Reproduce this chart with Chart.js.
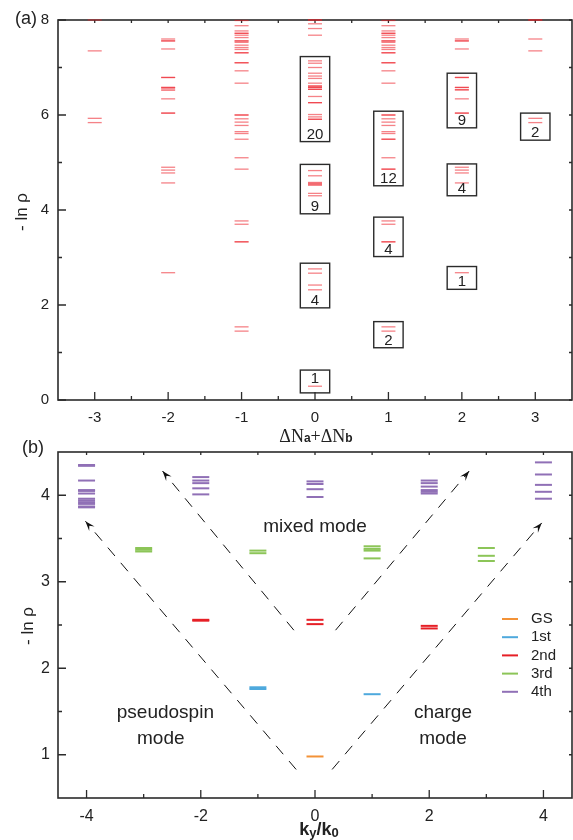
<!DOCTYPE html>
<html>
<head>
<meta charset="utf-8">
<script src="https://cdn.jsdelivr.net/npm/chart.js@4.4.0/dist/chart.umd.min.js"></script>
<style>
html, body { margin: 0; padding: 0; background: #fff; }
body { width: 573px; height: 840px; position: relative; overflow: hidden; }
canvas { position: absolute; left: 0; }
</style>
</head>
<body>
<canvas id="spec_a" width="573" height="445" style="top:0"></canvas>
<canvas id="spec_b" width="573" height="410" style="top:430px"></canvas>
<script>
// ---- panel (a): levels -ln rho per sector dNa+dNb ----
var sectors = [-3, -2, -1, 0, 1, 2, 3];
var levM3 = [8.0, 7.35, 5.93, 5.84];
var levM2 = [7.60, 7.56, 7.56, 7.39, 6.79, 6.79, 6.58, 6.58, 6.55, 6.52, 6.34, 6.04, 6.04,
             4.90, 4.84, 4.78, 4.57, 2.68];
var levM1 = [7.99, 7.88, 7.77, 7.72, 7.72, 7.68, 7.63, 7.56, 7.56, 7.53, 7.47, 7.42, 7.38, 7.31, 7.31,
             7.10, 7.10, 6.93, 6.67, 6.00, 6.00, 5.92, 5.85, 5.78, 5.65, 5.61, 5.49, 5.10, 4.86,
             3.77, 3.70, 3.33, 3.33, 1.54, 1.45];
var lev0  = [8.0, 8.0, 7.92, 7.82, 7.68,
             7.14, 7.09, 7.00, 6.88, 6.82, 6.77, 6.67, 6.61, 6.61, 6.58, 6.58, 6.54, 6.54, 6.39,
             6.26, 6.26, 6.01, 5.96, 5.91, 5.91,
             4.83, 4.72, 4.58, 4.56, 4.54, 4.52, 4.35, 4.30,
             2.76, 2.67, 2.42, 2.32, 0.29];
var levP1 = [7.99, 7.88, 7.77, 7.72, 7.72, 7.68, 7.63, 7.56, 7.56, 7.53, 7.47, 7.42, 7.38, 7.31, 7.31,
             7.10, 7.10, 6.93, 6.67, 6.00, 6.00, 5.92, 5.85, 5.78, 5.65, 5.61, 5.49, 5.49, 5.10, 4.86, 4.86,
             3.77, 3.70, 3.33, 3.33, 1.54, 1.45];
var levP2 = [7.60, 7.56, 7.56, 7.39, 6.79, 6.79, 6.58, 6.58, 6.53, 6.53, 6.34, 6.04, 6.04,
             4.90, 4.84, 4.78, 4.57, 2.68];
var levP3 = [8.0, 8.0, 7.60, 7.35, 5.93, 5.84];
var levelsBySector = [levM3, levM2, levM1, lev0, levP1, levP2, levP3];

// boxes: [sector, low, high, count, label baseline]
var boxes = [
  [0, 5.44, 7.23, '20', 5.50],
  [0, 3.92, 4.96, '9', 3.98],
  [0, 1.94, 2.88, '4', 2.00],
  [0, 0.15, 0.63, '1', 0.36],
  [1, 4.51, 6.08, '12', 4.57],
  [1, 3.02, 3.85, '4', 3.08],
  [1, 1.10, 1.65, '2', 1.16],
  [2, 5.73, 6.88, '9', 5.79],
  [2, 4.30, 4.97, '4', 4.36],
  [2, 2.33, 2.81, '1', 2.39],
  [3, 5.47, 6.04, '2', 5.53]
];
var xTicksA = [-3, -2, -1, 0, 1, 2, 3];
var yTicksA = [0, 2, 4, 6, 8];

// ---- panel (b): levels vs ky/k0 ----
var modeNames = ['GS', '1st', '2nd', '3rd', '4th'];
var gsLevels = [[0, 0.98]];
var firstLevels = [[-1, 1.78], [-1, 1.76], [1, 1.70]];
var secondLevels = [[-2, 2.56], [-2, 2.55], [0, 2.56], [0, 2.51], [2, 2.49], [2, 2.46]];
var thirdLevels = [[-3, 3.39], [-3, 3.37], [-3, 3.35], [-1, 3.36], [-1, 3.33],
                   [1, 3.41], [1, 3.38], [1, 3.36], [1, 3.27], [3, 3.39], [3, 3.30], [3, 3.24]];
var fourthLevels = [[-4, 4.35], [-4, 4.34], [-4, 4.17], [-4, 4.06], [-4, 4.05], [-4, 4.02],
                    [-4, 3.96], [-4, 3.94], [-4, 3.92], [-4, 3.90], [-4, 3.87], [-4, 3.86],
                    [-2, 4.21], [-2, 4.17], [-2, 4.14], [-2, 4.08], [-2, 4.01],
                    [0, 4.16], [0, 4.13], [0, 4.07], [0, 3.98],
                    [2, 4.17], [2, 4.14], [2, 4.10], [2, 4.06], [2, 4.04], [2, 4.02],
                    [4, 4.38], [4, 4.24], [4, 4.12], [4, 4.04], [4, 3.96]];
var modeLevels = [gsLevels, firstLevels, secondLevels, thirdLevels, fourthLevels];
var modeColors = ['#f39237', '#4ea9dd', '#e61f26', '#8cc558', '#9070b6'];

// dashed guide lines (start, arrow tip)
var guides = [
  [[-0.33, 0.83], [-4.02, 3.70]],
  [[0.30, 0.83], [3.97, 3.68]],
  [[-0.37, 2.44], [-2.67, 4.28]],
  [[0.36, 2.44], [2.70, 4.28]]
];
var xTicksB = [-4, -2, 0, 2, 4];
var yTicksB = [1, 2, 3, 4];

Chart.defaults.font.family = '"Liberation Sans", Arial, sans-serif';
Chart.defaults.color = '#222';

function midpoints(arr) {
  var out = [];
  for (var i = 0; i < arr.length - 1; i++) out.push((arr[i] + arr[i + 1]) / 2);
  return out;
}

function frame(xMajor, yMajor) {
  var xMinor = midpoints(xMajor), yMinor = midpoints(yMajor);
  return {
    id: 'frame',
    beforeDatasetsDraw: function(chart) {
      var ctx = chart.ctx, a = chart.chartArea, xs = chart.scales.x, ys = chart.scales.y;
      ctx.save();
      ctx.strokeStyle = '#2b2b2b';
      ctx.lineWidth = 1.6;
      ctx.strokeRect(a.left, a.top, a.right - a.left, a.bottom - a.top);
      ctx.lineWidth = 1.3;
      ctx.beginPath();
      function xt(list, len) {
        list.forEach(function(v) {
          var p = xs.getPixelForValue(v);
          ctx.moveTo(p, a.bottom); ctx.lineTo(p, a.bottom - len);
          ctx.moveTo(p, a.top); ctx.lineTo(p, a.top + 3);
        });
      }
      function yt(list, len) {
        list.forEach(function(v) {
          var p = ys.getPixelForValue(v);
          ctx.moveTo(a.left, p); ctx.lineTo(a.left + len, p);
          ctx.moveTo(a.right, p); ctx.lineTo(a.right - 3, p);
        });
      }
      xt(xMajor, 8); xt(xMinor, 4);
      yt(yMajor, 8); yt(yMinor, 4);
      ctx.stroke();
      ctx.restore();
    }
  };
}

function yTitle(ctx, x, y, size) {
  ctx.save();
  ctx.translate(x, y);
  ctx.rotate(-Math.PI / 2);
  ctx.font = size + 'px "Liberation Sans", Arial, sans-serif';
  ctx.fillStyle = '#222';
  ctx.textAlign = 'center';
  ctx.textBaseline = 'alphabetic';
  ctx.fillText('- ln ρ', 0, 0);
  ctx.restore();
}

function pieces(ctx, parts, cx, base) {
  var total = 0;
  parts.forEach(function(p) { ctx.font = p[1]; total += ctx.measureText(p[0]).width; });
  var x = cx - total / 2;
  ctx.textAlign = 'left';
  ctx.textBaseline = 'alphabetic';
  parts.forEach(function(p) {
    ctx.font = p[1];
    ctx.fillText(p[0], x, base + (p[2] || 0));
    x += ctx.measureText(p[0]).width;
  });
}

function noPadX(s, h) { s.height = h; s.paddingLeft = 0; s.paddingRight = 0; }
function noPadY(s, w) { s.width = w; s.paddingTop = 0; s.paddingBottom = 0; }

// ---------- chart (a) ----------
var pointsA = [];
sectors.forEach(function(s, i) {
  levelsBySector[i].forEach(function(v) { pointsA.push({x: s, y: v}); });
});

var annotateA = {
  id: 'annotateA',
  afterDatasetsDraw: function(chart) {
    var ctx = chart.ctx, xs = chart.scales.x, ys = chart.scales.y;
    ctx.save();
    ctx.strokeStyle = '#2b2b2b';
    ctx.lineWidth = 1.4;
    ctx.fillStyle = '#222';
    ctx.font = '15px "Liberation Sans", Arial, sans-serif';
    ctx.textAlign = 'center';
    ctx.textBaseline = 'alphabetic';
    boxes.forEach(function(b) {
      var l = xs.getPixelForValue(b[0] - 0.2), r = xs.getPixelForValue(b[0] + 0.2);
      var t = ys.getPixelForValue(b[2]), btm = ys.getPixelForValue(b[1]);
      ctx.strokeRect(l, t, r - l, btm - t);
      ctx.fillText(b[3], xs.getPixelForValue(b[0]), ys.getPixelForValue(b[4]));
    });
    ctx.font = '18px "Liberation Sans", Arial, sans-serif';
    ctx.textAlign = 'left';
    ctx.fillText('(a)', 15, 24);
    yTitle(ctx, 27, 212, 17);
    var serif = '18px "Liberation Serif", "DejaVu Serif", serif';
    var small = 'bold 12px "Liberation Sans", Arial, sans-serif';
    pieces(ctx, [['ΔN', serif], ['a', small], ['+ΔN', serif], ['b', small]], 316, 442);
    ctx.restore();
  }
};

new Chart(document.getElementById('spec_a').getContext('2d'), {
  type: 'scatter',
  data: {
    datasets: [{
      data: pointsA,
      pointStyle: 'line',
      pointRadius: 7,
      pointHoverRadius: 7,
      pointBorderWidth: 1.3,
      borderColor: 'rgba(236,28,36,0.55)',
      backgroundColor: 'rgba(236,28,36,0.55)',
      clip: false
    }]
  },
  options: {
    responsive: false,
    animation: false,
    events: [],
    layout: { autoPadding: false, padding: { top: 20, right: 1, left: 0, bottom: 0 } },
    plugins: { legend: { display: false }, tooltip: { enabled: false } },
    scales: {
      x: {
        type: 'linear', min: -3.5, max: 3.5,
        grid: { display: false, drawTicks: false },
        border: { display: false },
        afterBuildTicks: function(s) { s.ticks = xTicksA.map(function(v) { return {value: v}; }); },
        afterFit: function(s) { noPadX(s, 45); },
        ticks: { font: { size: 15 }, padding: 9, color: '#222' }
      },
      y: {
        type: 'linear', min: 0, max: 8,
        grid: { display: false, drawTicks: false },
        border: { display: false },
        afterBuildTicks: function(s) { s.ticks = yTicksA.map(function(v) { return {value: v}; }); },
        afterFit: function(s) { noPadY(s, 58); },
        ticks: { font: { size: 15 }, padding: 9, color: '#222' }
      }
    }
  },
  plugins: [frame(xTicksA, yTicksA), annotateA]
});

// ---------- chart (b) ----------
var datasetsB = modeLevels.map(function(list, i) {
  return {
    label: modeNames[i],
    data: list.map(function(p) { return {x: p[0], y: p[1]}; }),
    pointStyle: 'line',
    pointRadius: 8.5,
    pointHoverRadius: 8.5,
    pointBorderWidth: 2,
    borderColor: modeColors[i],
    backgroundColor: modeColors[i],
    clip: false
  };
});
guides.forEach(function(g) {
  datasetsB.push({
    label: 'guide',
    data: g.map(function(p) { return {x: p[0], y: p[1]}; }),
    showLine: true,
    borderColor: '#111',
    borderWidth: 1,
    borderDash: [11, 9],
    pointRadius: 0,
    pointHoverRadius: 0
  });
});

var annotateB = {
  id: 'annotateB',
  afterDatasetsDraw: function(chart) {
    var ctx = chart.ctx, xs = chart.scales.x, ys = chart.scales.y, a = chart.chartArea;
    ctx.save();
    // arrow heads on guide lines
    chart.data.datasets.forEach(function(ds, i) {
      if (ds.label !== 'guide') return;
      var pts = chart.getDatasetMeta(i).data;
      var p0 = pts[0], p1 = pts[pts.length - 1];
      var ang = Math.atan2(p1.y - p0.y, p1.x - p0.x);
      var len = 10, half = 3.5;
      ctx.fillStyle = '#111';
      ctx.beginPath();
      ctx.moveTo(p1.x, p1.y);
      ctx.lineTo(p1.x - len * Math.cos(ang) + half * Math.sin(ang), p1.y - len * Math.sin(ang) - half * Math.cos(ang));
      ctx.lineTo(p1.x - 0.6 * len * Math.cos(ang), p1.y - 0.6 * len * Math.sin(ang));
      ctx.lineTo(p1.x - len * Math.cos(ang) - half * Math.sin(ang), p1.y - len * Math.sin(ang) + half * Math.cos(ang));
      ctx.closePath();
      ctx.fill();
    });
    ctx.fillStyle = '#222';
    ctx.font = '19px "Liberation Sans", Arial, sans-serif';
    ctx.textAlign = 'center';
    ctx.textBaseline = 'middle';
    ctx.fillText('mixed mode', xs.getPixelForValue(0), ys.getPixelForValue(3.64));
    ctx.fillText('pseudospin', xs.getPixelForValue(-2.62), ys.getPixelForValue(1.48));
    ctx.fillText('mode', xs.getPixelForValue(-2.7), ys.getPixelForValue(1.19));
    ctx.fillText('charge', xs.getPixelForValue(2.24), ys.getPixelForValue(1.48));
    ctx.fillText('mode', xs.getPixelForValue(2.24), ys.getPixelForValue(1.19));
    // legend
    ctx.font = '15px "Liberation Sans", Arial, sans-serif';
    ctx.textAlign = 'left';
    modeNames.forEach(function(n, i) {
      var y = a.top + 167 + i * 18.2;
      ctx.strokeStyle = modeColors[i];
      ctx.lineWidth = 2;
      ctx.beginPath();
      ctx.moveTo(a.right - 70, y); ctx.lineTo(a.right - 54, y);
      ctx.stroke();
      ctx.fillText(n, a.right - 41, y);
    });
    ctx.font = '18px "Liberation Sans", Arial, sans-serif';
    ctx.textBaseline = 'alphabetic';
    ctx.fillText('(b)', 22, 23);
    yTitle(ctx, 33, 196, 17);
    var big = 'bold 18px "Liberation Sans", Arial, sans-serif';
    var sub = 'bold 13px "Liberation Sans", Arial, sans-serif';
    pieces(ctx, [['k', big], ['y', sub, 2], ['/k', big], ['0', sub, 2]], 319, 405);
    ctx.restore();
  }
};

new Chart(document.getElementById('spec_b').getContext('2d'), {
  type: 'scatter',
  data: { datasets: datasetsB },
  options: {
    responsive: false,
    animation: false,
    events: [],
    layout: { autoPadding: false, padding: { top: 22, right: 1, left: 0, bottom: 0 } },
    plugins: { legend: { display: false }, tooltip: { enabled: false } },
    scales: {
      x: {
        type: 'linear', min: -4.5, max: 4.5,
        grid: { display: false, drawTicks: false },
        border: { display: false },
        afterBuildTicks: function(s) { s.ticks = xTicksB.map(function(v) { return {value: v}; }); },
        afterFit: function(s) { noPadX(s, 42); },
        ticks: { font: { size: 16 }, padding: 9, color: '#222' }
      },
      y: {
        type: 'linear', min: 0.5, max: 4.5,
        grid: { display: false, drawTicks: false },
        border: { display: false },
        afterBuildTicks: function(s) { s.ticks = yTicksB.map(function(v) { return {value: v}; }); },
        afterFit: function(s) { noPadY(s, 58); },
        ticks: { font: { size: 16 }, padding: 8, color: '#222' }
      }
    }
  },
  plugins: [frame(xTicksB, yTicksB), annotateB]
});
</script>
</body>
</html>
